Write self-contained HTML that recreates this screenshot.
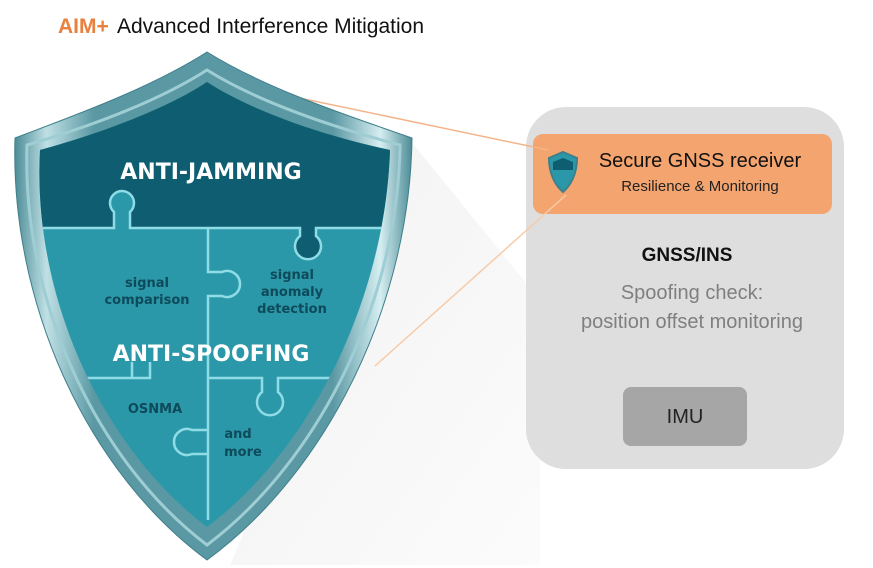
<!DOCTYPE html>
<html><head><meta charset="utf-8"><style>
html,body{margin:0;padding:0;background:#fff;}
body{width:873px;height:568px;overflow:hidden;position:relative;font-family:"Liberation Sans",sans-serif;}
</style></head><body>
<svg width="873" height="568" viewBox="0 0 873 568" xmlns="http://www.w3.org/2000/svg" style="position:absolute;left:0;top:0">
<defs>
<linearGradient id="sh" x1="0" y1="0" x2="1" y2="1">
<stop offset="0" stop-color="#ececec"/><stop offset="1" stop-color="#fafafa"/>
</linearGradient>
<linearGradient id="fr" x1="0" y1="0" x2="1" y2="0">
<stop offset="0" stop-color="#4d8c97"/><stop offset="0.08" stop-color="#bfe0e5"/><stop offset="0.2" stop-color="#5a98a3"/>
<stop offset="0.8" stop-color="#5a98a3"/><stop offset="0.92" stop-color="#d6eef1"/><stop offset="1" stop-color="#4d8c97"/>
</linearGradient>
<clipPath id="ic"><path d="M207,82 C250,110 320,135 390,150 C385,300 310,450 207,527 C105,450 32,300 40,150 C95,135 165,110 207,82 Z"/></clipPath>
</defs>
<text x="117" y="33" font-size="21" fill="#111"><tspan fill="#e8803e" font-weight="bold" x="58">AIM+</tspan><tspan x="117">Advanced Interference Mitigation</tspan></text>
<!-- shadow -->
<path d="M410,140 L540,300 L540,565 L230,565 Z" fill="url(#sh)" opacity="0.7"/>
<!-- right box -->
<rect x="526" y="107" width="318" height="362" rx="40" fill="#dedede"/>
<rect x="533" y="134" width="299" height="80" rx="10" fill="#f4a56f"/>
<rect x="623" y="387" width="124" height="59" rx="8" fill="#a6a6a6"/>
<!-- connector lines -->
<line x1="285" y1="95" x2="548" y2="150" stroke="#f2b58a" stroke-width="1.5"/>
<line x1="375" y1="366" x2="566" y2="195" stroke="#f7cba8" stroke-width="1.5"/>
<!-- shield -->
<path d="M207,52 C260,85 330,110 412,138 C410,300 330,470 207,560 C85,470 10,300 15,138 C90,110 155,85 207,52 Z" fill="url(#fr)" stroke="#3f7f8a" stroke-width="1"/>
<path d="M207,70 C255,100 325,125 400,145 C398,300 320,460 207,545 C95,460 22,300 27,145 C95,125 160,100 207,70 Z" fill="none" stroke="#9fcdd4" stroke-width="3"/>
<g clip-path="url(#ic)">
<rect x="0" y="0" width="420" height="560" fill="#2b98a9"/>
<path d="M0,0 H420 V228 H300 L300,236 A13,13 0 1 0 316,236 L316,228 H130 V212 A12,12 0 1 0 114,212 V228 H0 Z" fill="#0f5d70"/>
<g fill="none" stroke="#8fdbe6" stroke-width="2.5">
<path d="M0,228 H114 V212 A12,12 0 1 1 130,212 V228 H300 V236 A13,13 0 1 0 316,236 V228 H420"/>
<path d="M208,228 V272 H222 A13,13 0 1 1 222,296 H208 V520"/>
<path d="M40,378 H150 V362 M132,362 V378 M208,378 H262 V392 A13,13 0 1 0 278,392 V378 H400"/>
<path d="M208,454 H192 A13,13 0 1 1 192,430 H208"/>
</g>
</g>
<g font-family="'DejaVu Sans',sans-serif" font-weight="bold" text-anchor="middle">
<text x="211" y="179" font-size="22" fill="#fff">ANTI-JAMMING</text>
<text x="211" y="361" font-size="22" fill="#fff">ANTI-SPOOFING</text>
<g font-size="13" fill="#0d4a5a">
<text x="147" y="287">signal</text><text x="147" y="304">comparison</text>
<text x="292" y="279">signal</text><text x="292" y="296">anomaly</text><text x="292" y="313">detection</text>
<text x="155" y="413">OSNMA</text>
<text x="238" y="438">and</text><text x="243" y="456">more</text>
</g>
</g>
<!-- mini shield -->
<path d="M563,152 L577,158 C577,175 570,186 563,192 C556,186 549,175 549,158 Z" fill="#2b98a9" stroke="#3f7f8a" stroke-width="2"/>
<path d="M563,158 L573,162 L573,170 L553,170 L553,162 Z" fill="#0f5d70"/>
<g text-anchor="middle">
<text x="700" y="167" font-size="20" fill="#111">Secure GNSS receiver</text>
<text x="700" y="191" font-size="15" fill="#222">Resilience &amp; Monitoring</text>
<text x="687" y="261" font-size="19" font-weight="bold" fill="#111">GNSS/INS</text>
<text x="692" y="299" font-size="20" fill="#7f7f7f">Spoofing check:</text>
<text x="692" y="328" font-size="20" fill="#7f7f7f">position offset monitoring</text>
<text x="685" y="423" font-size="20" fill="#222">IMU</text>
</g>
</svg>
</body></html>
